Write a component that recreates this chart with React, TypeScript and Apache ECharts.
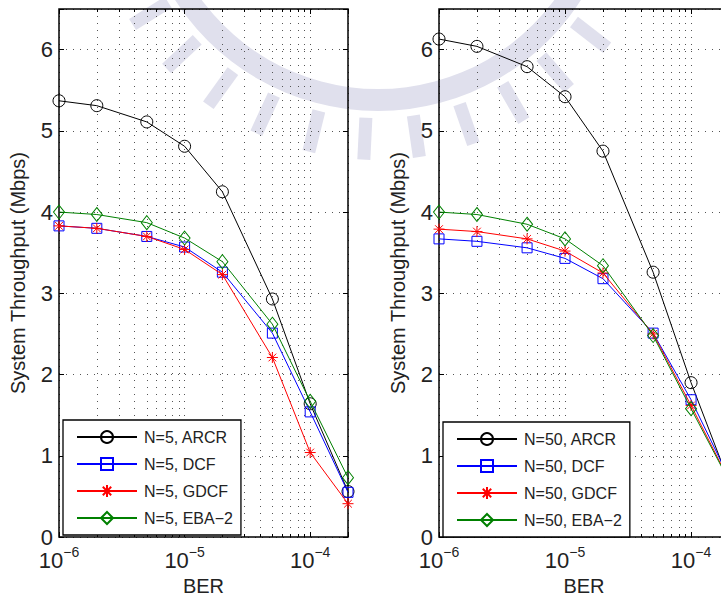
import React, { useEffect, useRef } from 'react';
import * as echarts from 'echarts';

// ---------- data ----------
const BER = [1e-6, 2e-6, 5e-6, 1e-5, 2e-5, 5e-5, 1e-4, 2e-4];

const ARCR_5 = [5.37, 5.31, 5.11, 4.81, 4.25, 2.93, 1.64, 0.56];
const DCF_5 = [3.83, 3.8, 3.7, 3.57, 3.26, 2.51, 1.54, 0.55];
const GDCF_5 = [3.83, 3.8, 3.7, 3.54, 3.23, 2.21, 1.04, 0.41];
const EBA_5 = [4.0, 3.97, 3.87, 3.68, 3.39, 2.62, 1.67, 0.73];

const ARCR_50 = [6.13, 6.04, 5.79, 5.42, 4.75, 3.26, 1.9, 0.68];
const DCF_50 = [3.67, 3.64, 3.56, 3.43, 3.18, 2.51, 1.69, 0.73];
const GDCF_50 = [3.79, 3.76, 3.67, 3.52, 3.25, 2.5, 1.62, 0.7];
const EBA_50 = [4.0, 3.97, 3.85, 3.67, 3.34, 2.48, 1.58, 0.69];

const NAMES_5 = ['N=5, ARCR', 'N=5, DCF', 'N=5, GDCF', 'N=5, EBA\u22122'];
const NAMES_50 = ['N=50, ARCR', 'N=50, DCF', 'N=50, GDCF', 'N=50, EBA\u22122'];

const MINOR_TICKS = [
  2e-6, 3e-6, 4e-6, 5e-6, 6e-6, 7e-6, 8e-6, 9e-6,
  2e-5, 3e-5, 4e-5, 5e-5, 6e-5, 7e-5, 8e-5, 9e-5,
];

const X_MIN = 1e-6;
const X_MAX = 2e-4;
const Y_MIN = 0;
const Y_MAX = 6.5;

// ---------- styles ----------
const FONT = '"Liberation Sans", Arial, Helvetica, sans-serif';
const TEXT = '#222';
const GRID_DOT = { color: '#555', width: 1, type: [1, 6] as number[] };
const WM_COLOR = '#e0e0ed';

const STYLES = [
  { color: '#000000', symbol: 'circle', size: 12 },
  { color: '#0000ff', symbol: 'rect', size: 10 },
  { color: '#ff0000', symbol: 'path://M10,0L10,20M0,10L20,10M3,3L17,17M3,17L17,3', size: 11 },
  { color: '#008000', symbol: 'diamond', size: [11, 14] },
];

const GRIDS = [
  { left: 59, top: 9, width: 289, height: 528 },
  { left: 439, top: 9, width: 290, height: 528 },
];

function xLabel(v: number) {
  const e = Math.round(Math.log10(v));
  if (Math.abs(v - Math.pow(10, e)) / v > 1e-6) return '';
  return '{b|10}{s|\u2212' + String(-e) + '}';
}

function buildOption() {
  const xAxis: any[] = [];
  const yAxis: any[] = [];
  GRIDS.forEach((_, gi) => {
    xAxis.push({
      type: 'log', logBase: 10, gridIndex: gi, min: X_MIN, max: X_MAX, position: 'bottom',
      name: 'BER', nameLocation: 'middle', nameGap: 38,
      nameTextStyle: { fontSize: 20, color: TEXT, fontFamily: FONT },
      axisLine: { show: false },
      axisTick: { show: true, inside: true, length: 5, lineStyle: { color: '#000', width: 1 } },
      axisLabel: {
        show: true, margin: 8, formatter: xLabel, color: TEXT, fontFamily: FONT,
        rich: {
          b: { fontSize: 22, lineHeight: 26, verticalAlign: 'bottom', color: TEXT, fontFamily: FONT },
          s: { fontSize: 14, lineHeight: 14, verticalAlign: 'top', color: TEXT, fontFamily: FONT },
        },
      },
      splitLine: { show: true, lineStyle: GRID_DOT },
    });
    xAxis.push({
      type: 'log', logBase: 10, gridIndex: gi, min: X_MIN, max: X_MAX, position: 'bottom',
      axisLine: { show: false },
      axisTick: { show: true, inside: true, length: 3, customValues: MINOR_TICKS, lineStyle: { color: '#000', width: 1 } },
      axisLabel: { show: false },
      splitLine: { show: true, lineStyle: GRID_DOT },
    });
    xAxis.push({
      type: 'log', logBase: 10, gridIndex: gi, min: X_MIN, max: X_MAX, position: 'top',
      axisLine: { show: false },
      axisTick: { show: true, inside: true, length: 5, lineStyle: { color: '#000', width: 1 } },
      axisLabel: { show: false },
      splitLine: { show: false },
    });
    xAxis.push({
      type: 'log', logBase: 10, gridIndex: gi, min: X_MIN, max: X_MAX, position: 'top',
      axisLine: { show: false },
      axisTick: { show: true, inside: true, length: 3, customValues: MINOR_TICKS, lineStyle: { color: '#000', width: 1 } },
      axisLabel: { show: false },
      splitLine: { show: false },
    });
    yAxis.push({
      type: 'value', gridIndex: gi, min: Y_MIN, max: Y_MAX, interval: 1, position: 'left',
      name: 'System Throughput (Mbps)', nameLocation: 'middle', nameGap: 31,
      nameTextStyle: { fontSize: 20, color: TEXT, fontFamily: FONT },
      axisLine: { show: false },
      axisTick: { show: true, inside: true, length: 5, lineStyle: { color: '#000', width: 1 } },
      axisLabel: {
        show: true, margin: 6, fontSize: 22, color: TEXT, fontFamily: FONT,
        formatter: (v: number) => (Number.isInteger(v) ? String(v) : ''),
      },
      splitLine: { show: true, lineStyle: GRID_DOT },
    });
    yAxis.push({
      type: 'value', gridIndex: gi, min: Y_MIN, max: Y_MAX, interval: 1, position: 'right',
      axisLine: { show: false },
      axisTick: { show: true, inside: true, length: 5, lineStyle: { color: '#000', width: 1 } },
      axisLabel: { show: false },
      splitLine: { show: false },
    });
  });

  const groups = [
    { names: NAMES_5, values: [ARCR_5, DCF_5, GDCF_5, EBA_5] },
    { names: NAMES_50, values: [ARCR_50, DCF_50, GDCF_50, EBA_50] },
  ];
  const series: any[] = [];
  groups.forEach((g, gi) => {
    g.values.forEach((vals, si) => {
      const st = STYLES[si];
      series.push({
        type: 'line',
        name: g.names[si],
        xAxisIndex: gi * 4,
        yAxisIndex: gi * 2,
        data: BER.map((x, i) => [x, vals[i]]),
        symbol: st.symbol,
        symbolSize: st.size,
        showAllSymbol: true,
        clip: false,
        lineStyle: { color: st.color, width: 1 },
        itemStyle: { color: 'rgba(0,0,0,0)', borderColor: st.color, borderWidth: 1 },
        emphasis: { disabled: true },
        z: 3 + si,
      });
    });
  });

  const legendBase = {
    orient: 'vertical',
    itemWidth: 60,
    itemHeight: 15,
    itemGap: 11,
    padding: [9, 8, 9, 13],
    backgroundColor: '#fff',
    borderColor: '#000',
    borderWidth: 1.3,
    borderRadius: 0,
    selectedMode: false,
    textStyle: { fontSize: 16, color: TEXT, fontFamily: FONT, padding: [0, 0, 0, 2] },
  };

  // watermark (decorative seal behind the plots)
  const wmCx = 378;
  const wmCy = -130;
  const graphics: any[] = [
    {
      type: 'ring', z: -10, silent: true,
      shape: { cx: wmCx, cy: wmCy, r: 241, r0: 219 },
      style: { fill: WM_COLOR },
    },
  ];
  for (let k = -5; k <= 5; k++) {
    const a = ((k * 11 - 2.8) * Math.PI) / 180;
    const dx = Math.sin(a), dy = Math.cos(a);
    const px = Math.cos(a), py = -Math.sin(a);
    const r1 = 248, r2 = 290, w = 6.5;
    graphics.push({
      type: 'polygon', z: -10, silent: true,
      shape: {
        points: [
          [wmCx + r1 * dx - w * px, wmCy + r1 * dy - w * py],
          [wmCx + r2 * dx - w * px, wmCy + r2 * dy - w * py],
          [wmCx + r2 * dx + w * px, wmCy + r2 * dy + w * py],
          [wmCx + r1 * dx + w * px, wmCy + r1 * dy + w * py],
        ],
      },
      style: { fill: WM_COLOR },
    });
  }

  return {
    animation: false,
    backgroundColor: '#fff',
    textStyle: { fontFamily: FONT },
    graphic: graphics,
    grid: GRIDS.map((g) => ({
      ...g, show: true, borderColor: '#000', borderWidth: 1.5, backgroundColor: 'transparent',
      containLabel: false, outerBoundsMode: 'none', z: 2,
    })),
    xAxis,
    yAxis,
    legend: [
      { ...legendBase, data: NAMES_5, left: 63, top: 420 },
      { ...legendBase, data: NAMES_50, left: 443, top: 422 },
    ],
    series,
  };
}

export default function App() {
  const ref = useRef<HTMLDivElement>(null);
  useEffect(() => {
    if (!ref.current) return;
    const chart = echarts.init(ref.current, null, { renderer: 'svg' });
    chart.setOption(buildOption() as any);
    return () => chart.dispose();
  }, []);
  return (
    <div
      ref={ref}
      style={{ position: 'fixed', left: 0, top: 0, width: 721, height: 596, background: '#fff' }}
    />
  );
}
